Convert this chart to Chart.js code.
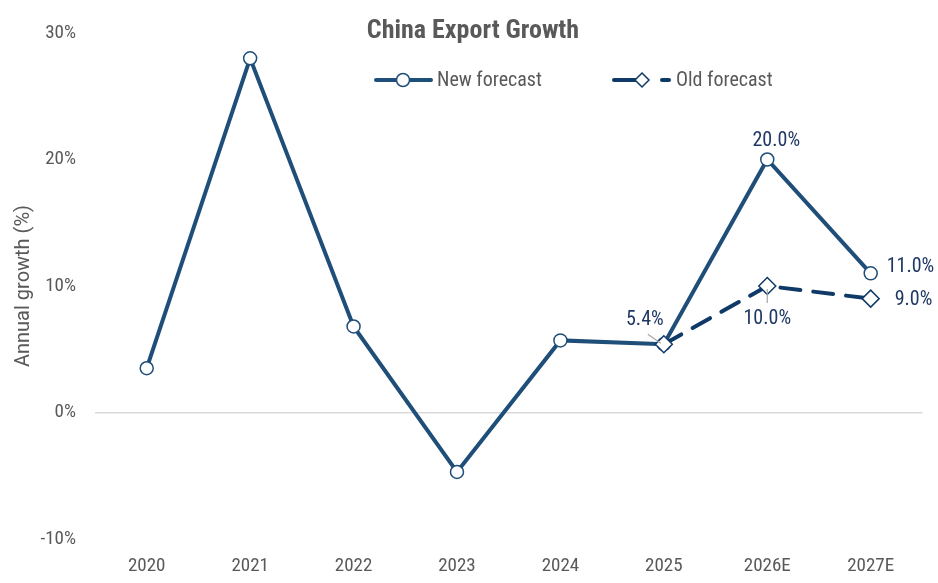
<!DOCTYPE html>
<html>
<head>
<meta charset="utf-8">
<script src="https://cdn.jsdelivr.net/npm/chart.js@4.4.1/dist/chart.umd.min.js"></script>
<style>
  html, body { margin: 0; padding: 0; background: #ffffff; }
  #wrap { width: 938px; height: 583px; position: relative; }
</style>
</head>
<body>
<div id="wrap"><canvas id="c"></canvas></div>
<script>
const categories = ['2020', '2021', '2022', '2023', '2024', '2025', '2026E', '2027E'];
const newForecast = [3.5, 28.0, 6.8, -4.7, 5.7, 5.4, 20.0, 11.0];
const oldForecast = [null, null, null, null, null, 5.4, 10.0, 9.0];
const yTickValues = [-10, 0, 10, 20, 30];
const chartTitle = 'China Export Growth';
const yAxisTitle = 'Annual growth (%)';
const seriesNames = ['New forecast', 'Old forecast'];
const newLabelIndexes = [6, 7];
const oldLabelIndexes = [5, 6, 7];

const FONT = '"Roboto Condensed", "Liberation Sans Narrow", "Arial Narrow", Roboto, sans-serif';
const GRAY = '#595959';
const NEW_COLOR = '#1f4e79';
const OLD_COLOR = '#0f3a68';
const LABEL_COLOR = '#1f3864';

Chart.defaults.font.family = FONT;
Chart.defaults.color = GRAY;

const fmt = v => v.toFixed(1) + '%';

const overlayPlugin = {
  id: 'overlay',
  afterDatasetsDraw(chart) {
    const ctx = chart.ctx;
    ctx.save();
    const oldMeta = chart.getDatasetMeta(0);
    const newMeta = chart.getDatasetMeta(1);
    ctx.font = '20px ' + FONT;
    ctx.textBaseline = 'middle';
    const drawLbl = (meta, i, data, dx, dy, align, leader) => {
      const p = meta.data[i];
      if (leader) {
        ctx.strokeStyle = '#a6a6a6';
        ctx.lineWidth = 1.2;
        ctx.beginPath();
        ctx.moveTo(p.x + leader[0], p.y + leader[1]);
        ctx.lineTo(p.x + leader[2], p.y + leader[3]);
        ctx.stroke();
      }
      ctx.fillStyle = LABEL_COLOR;
      ctx.textAlign = align;
      ctx.fillText(fmt(data[i]), p.x + dx, p.y + dy);
    };
    newLabelIndexes.forEach(i => {
      if (i === 6) drawLbl(newMeta, i, newForecast, 9, -19, 'center');
      else drawLbl(newMeta, i, newForecast, 16, -6, 'left');
    });
    oldLabelIndexes.forEach(i => {
      if (i === 5) drawLbl(oldMeta, i, oldForecast, -19, -24, 'center', [-16, -10, -3, -1]);
      else if (i === 6) drawLbl(oldMeta, i, oldForecast, 0, 33, 'center', [0, 3, 0, 17]);
      else drawLbl(oldMeta, i, oldForecast, 24, 1, 'left');
    });

    // title
    ctx.font = 'bold 26px ' + FONT;
    ctx.fillStyle = GRAY;
    ctx.textAlign = 'center';
    ctx.fillText(chartTitle, 473, 31);

    // legend
    const ly = 80;
    ctx.font = '20px ' + FONT;
    ctx.textAlign = 'left';
    ctx.strokeStyle = NEW_COLOR;
    ctx.lineWidth = 4;
    ctx.setLineDash([]);
    ctx.lineCap = 'round';
    ctx.beginPath(); ctx.moveTo(376, ly); ctx.lineTo(431, ly); ctx.stroke();
    ctx.beginPath(); ctx.arc(403, ly, 6.5, 0, Math.PI * 2);
    ctx.fillStyle = '#ffffff'; ctx.fill();
    ctx.lineWidth = 1.5; ctx.stroke();
    ctx.fillStyle = GRAY;
    ctx.fillText(seriesNames[0], 437, ly + 1);
    ctx.strokeStyle = OLD_COLOR;
    ctx.lineWidth = 4;
    ctx.beginPath(); ctx.moveTo(614, ly); ctx.lineTo(638, ly); ctx.stroke();
    ctx.beginPath(); ctx.moveTo(662, ly); ctx.lineTo(669, ly); ctx.stroke();
    ctx.beginPath();
    ctx.moveTo(642, ly - 7); ctx.lineTo(649, ly); ctx.lineTo(642, ly + 7); ctx.lineTo(635, ly); ctx.closePath();
    ctx.fillStyle = '#ffffff'; ctx.fill();
    ctx.lineWidth = 1.5; ctx.stroke();
    ctx.fillStyle = GRAY;
    ctx.fillText(seriesNames[1], 676, ly + 1);
    ctx.restore();
  }
};

new Chart(document.getElementById('c'), {
  type: 'line',
  data: {
    labels: categories,
    datasets: [
      {
        label: seriesNames[1],
        data: oldForecast,
        order: 0,
        borderColor: OLD_COLOR,
        borderWidth: 4,
        borderDash: [20, 13],
        borderCapStyle: 'round',
        pointStyle: 'rectRot',
        pointRadius: 8.5,
        pointBorderWidth: 1.5,
        pointBackgroundColor: '#ffffff',
        pointBorderColor: OLD_COLOR,
        tension: 0,
        spanGaps: false
      },
      {
        label: seriesNames[0],
        data: newForecast,
        order: 1,
        borderColor: NEW_COLOR,
        borderWidth: 4,
        pointStyle: 'circle',
        pointRadius: 6.5,
        pointBorderWidth: 1.5,
        pointBackgroundColor: '#ffffff',
        pointBorderColor: NEW_COLOR,
        tension: 0
      }
    ]
  },
  options: {
    responsive: true,
    maintainAspectRatio: false,
    animation: false,
    layout: { padding: { top: 33, right: 15.6, bottom: 0, left: 0 } },
    plugins: {
      legend: { display: false },
      title: { display: false },
      tooltip: { enabled: false }
    },
    scales: {
      x: {
        offset: true,
        grid: { display: false, drawTicks: false },
        border: { display: false },
        ticks: { font: { size: 19 }, color: GRAY, padding: 16, maxRotation: 0 },
        afterFit: s => { s.height = 44; }
      },
      y: {
        min: -10,
        max: 30,
        afterBuildTicks: s => { s.ticks = yTickValues.map(v => ({ value: v })); },
        grid: {
          drawTicks: false,
          lineWidth: 1.5,
          color: c => (c.tick && c.tick.value === 0) ? '#d9d9d9' : 'rgba(0,0,0,0)'
        },
        border: { display: false },
        ticks: { font: { size: 19 }, color: GRAY, padding: 19, callback: v => v + '%' },
        title: { display: true, text: yAxisTitle, font: { family: 'Roboto, sans-serif', size: 20 }, color: GRAY, padding: { top: 12, bottom: 0 } },
        afterFit: s => { s.width = 95; }
      }
    }
  },
  plugins: [overlayPlugin]
});
</script>
</body>
</html>
